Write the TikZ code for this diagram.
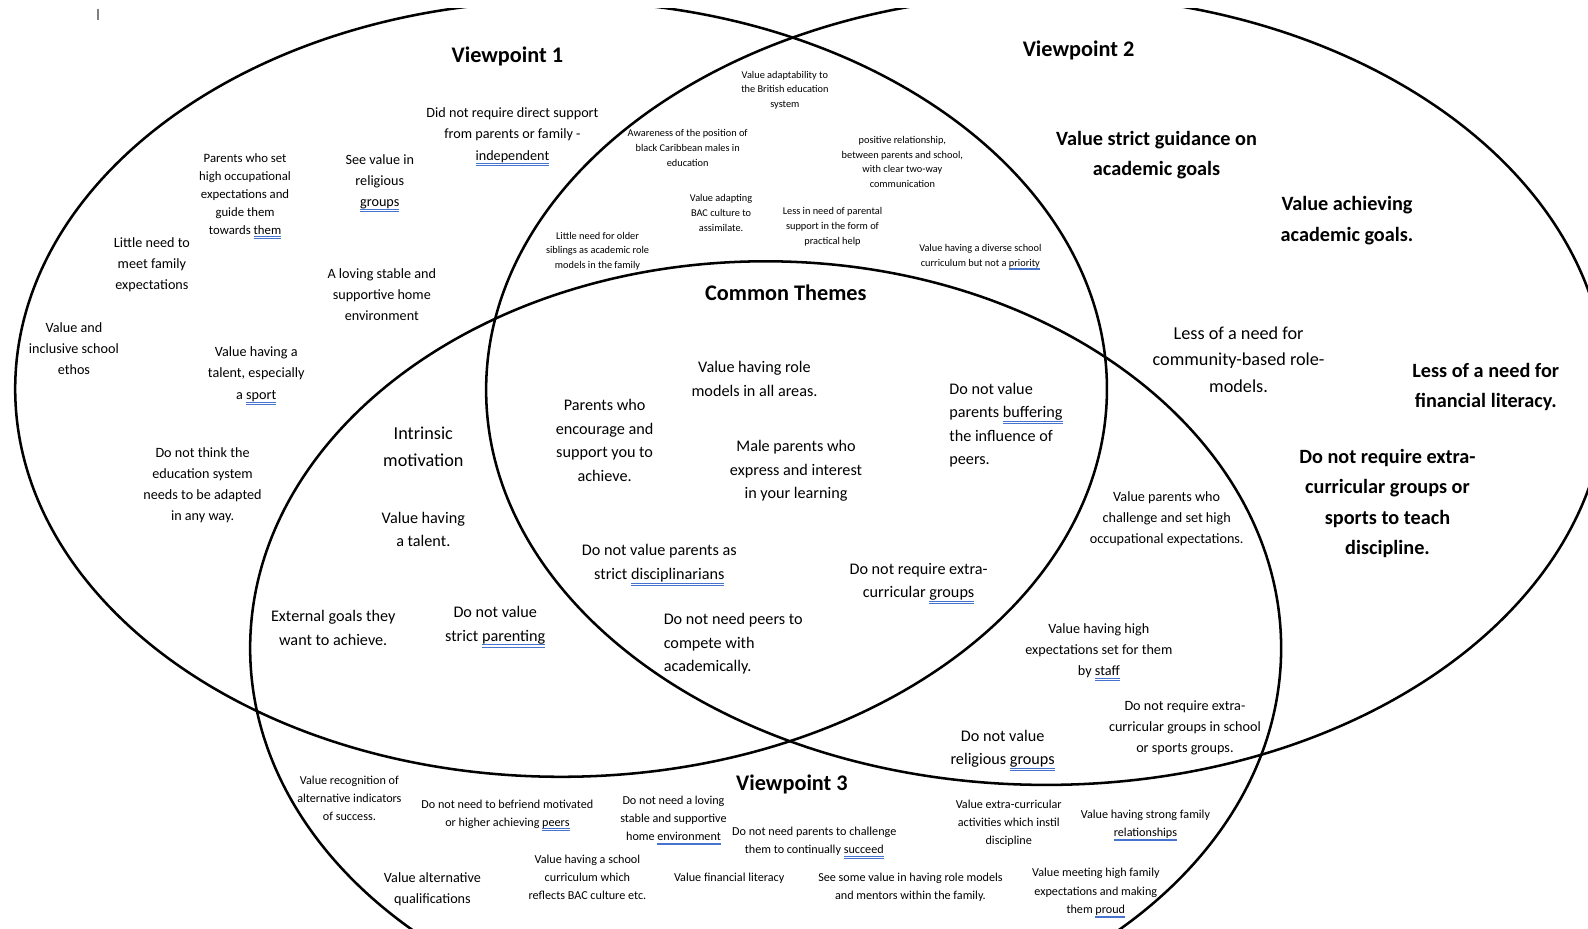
\documentclass[tikz,border=0pt]{standalone}
\usepackage{fontspec}
\setmainfont{Carlito}
\definecolor{gramblue}{RGB}{70,115,205}

% double blue marker under a word
\newsavebox\gubox
\newcommand\gu[1]{\sbox\gubox{#1}%
  \rlap{\textcolor{gramblue}{\rule[-0.5ex]{\wd\gubox}{0.35pt}}}%
  \rlap{\textcolor{gramblue}{\rule[-0.8ex]{\wd\gubox}{0.35pt}}}%
  \usebox\gubox}

\begin{document}
\begin{tikzpicture}[
  x=0.5pt, y=-0.5pt,
  every node/.style={inner sep=0pt, yshift=-1pt},
  venn/.style={draw, line width=1.25pt},
  title/.style={font=\fontsize{11}{13}\selectfont\bfseries},
  bigtxt/.style={align=center, font=\fontsize{10}{15}\selectfont\bfseries},
  roletxt/.style={align=center, font=\fontsize{9}{13}\selectfont},
  midtxt/.style={align=center, font=\fontsize{8}{11.6}\selectfont},
  smalltxt/.style={align=center, font=\fontsize{7}{10.4}\selectfont},
  notetxt/.style={align=center, font=\fontsize{6.3}{8.8}\selectfont},
  bottxt/.style={align=center, font=\fontsize{6}{9}\selectfont},
  tinytxt/.style={align=center, font=\fontsize{5.1}{7.3}\selectfont},
]
% Coordinate system: pixels of the screenshot, y pointing down
\useasboundingbox (0,0) rectangle (1568,917);

% --- Circles ---
\begin{scope}
  \clip (0,8) rectangle (1568,917);
  \foreach \cx/\cy/\rx/\ry in {554/384/539/383, 1033/385/553/390, 756/640/509/382}
    \draw[venn] (\cx,\cy) ellipse [x radius=\rx, y radius=\ry];
\end{scope}

% --- Cursor mark ---
\draw[gray, line width=0.8pt] (97,9) -- (97,20);

% --- Titles ---
\node[title] (vp1) at (501,54) {Viewpoint 1};
\node[title] (vp2) at (1065,48) {Viewpoint 2};
\node[title] (vp3) at (782,773) {Viewpoint 3};
\node[title] (common) at (776,287) {Common Themes};

% --- Viewpoint 1 only ---
\node[smalltxt] (v1indep) at (506,133) {Did not require direct support\\from parents or family -\\\gu{independent}};
\node[smalltxt] (v1relig) at (375,179) {See value in\\religious\\\gu{groups}};
\node[notetxt] (v1occup) at (242,192) {Parents who set\\high occupational\\expectations and\\guide them\\towards \gu{them}};
\node[smalltxt] (v1family) at (150,259) {Little need to\\meet family\\expectations};
\node[smalltxt] (v1home) at (377,289) {A loving stable and\\supportive home\\environment};
\node[smalltxt] (v1ethos) at (73,342) {Value and\\inclusive school\\ethos};
\node[smalltxt] (v1sport) at (253,369) {Value having a\\talent, especially\\a \gu{sport}};
\node[smalltxt] (v1adapt) at (200,477) {Do not think the\\education system\\needs to be adapted\\in any way.};

% --- Viewpoints 1 and 2 ---
\node[tinytxt] (t12brit) at (775,87) {Value adaptability to\\the British education\\system};
\node[tinytxt] (t12aware) at (679,144) {Awareness of the position of\\black Caribbean males in\\education};
\node[tinytxt] (t12posrel) at (891,158) {positive relationship,\\between parents and school,\\with clear two-way\\communication};
\node[tinytxt] (t12bac) at (712,208) {Value adapting\\BAC culture to\\assimilate.};
\node[tinytxt] (t12pract) at (822,222) {Less in need of parental\\support in the form of\\practical help};
\node[tinytxt] (t12sibl) at (590,246) {Little need for older\\siblings as academic role\\models in the family};
\node[tinytxt] (t12diverse) at (968,252) {Value having a diverse school\\curriculum but not a \gu{priority}};

% --- Viewpoint 2 only ---
\node[bigtxt] (v2strict) at (1142,151) {Value strict guidance on\\academic goals};
\node[bigtxt] (v2achieve) at (1330,216) {Value achieving\\academic goals.};
\node[roletxt] (v2role) at (1223,353) {Less of a need for\\community-based role-\\models.};
\node[bigtxt] (v2finlit) at (1467,380) {Less of a need for\\financial literacy.};
\node[bigtxt] (v2extra) at (1370,495) {Do not require extra-\\curricular groups or\\sports to teach\\discipline.};

% --- Common themes ---
\node[midtxt] (cRole) at (745,372) {Value having role\\models in all areas.};
\node[midtxt] (cEncour) at (597,433) {Parents who\\encourage and\\support you to\\achieve.};
\node[midtxt] (cMale) at (786,463) {Male parents who\\express and interest\\in your learning};
\node[midtxt, align=left, anchor=west] (cBuffer) at (937,418) {Do not value\\parents \gu{buffering}\\the influence of\\peers.};
\node[midtxt] (cDiscip) at (651,556) {Do not value parents as\\strict \gu{disciplinarians}};
\node[midtxt] (cExtra) at (907,574) {Do not require extra-\\curricular \gu{groups}};
\node[midtxt, align=left, anchor=west] (cPeers) at (655,634) {Do not need peers to\\compete with\\academically.};

% --- Viewpoints 1 and 3 ---
\node[roletxt] (l13intr) at (418,439) {Intrinsic\\motivation};
\node[midtxt] (l13talent) at (418,521) {Value having\\a talent.};
\node[midtxt] (l13goals) at (329,618) {External goals they\\want to achieve.};
\node[midtxt] (l13parent) at (489,617) {Do not value\\strict \gu{parenting}};

% --- Viewpoints 2 and 3 ---
\node[smalltxt] (r23chall) at (1152,510) {Value parents who\\challenge and set high\\occupational expectations.};
\node[smalltxt] (r23staff) at (1085,642) {Value having high\\expectations set for them\\by \gu{staff}};
\node[smalltxt] (r23extra) at (1170,717) {Do not require extra-\\curricular groups in school\\or sports groups.};
\node[midtxt] (r23relig) at (990,739) {Do not value\\religious \gu{groups}};

% --- Viewpoint 3 only ---
\node[bottxt] (v3recog) at (345,786) {Value recognition of\\alternative indicators\\of success.};
\node[bottxt] (v3befr) at (501,803) {Do not need to befriend motivated\\or higher achieving \gu{peers}};
\node[bottxt] (v3home) at (665,808) {Do not need a loving\\stable and supportive\\home \gu{environment}};
\node[bottxt] (v3chall) at (804,830) {Do not need parents to challenge\\them to continually \gu{succeed}};
\node[bottxt] (v3curric) at (580,864) {Value having a school\\curriculum which\\reflects BAC culture etc.};
\node[smalltxt] (v3qual) at (427,876) {Value alternative\\qualifications};
\node[bottxt] (v3finlit) at (720,865) {Value financial literacy};
\node[bottxt] (v3mentor) at (899,874) {See some value in having role models\\and mentors within the family.};
\node[bottxt] (v3extra) at (996,811) {Value extra-curricular\\activities which instil\\discipline};
\node[bottxt] (v3strong) at (1131,813) {Value having strong family\\\gu{relationships}};
\node[bottxt] (v3proud) at (1082,880) {Value meeting high family\\expectations and making\\them \gu{proud}};

\end{tikzpicture}
\end{document}
